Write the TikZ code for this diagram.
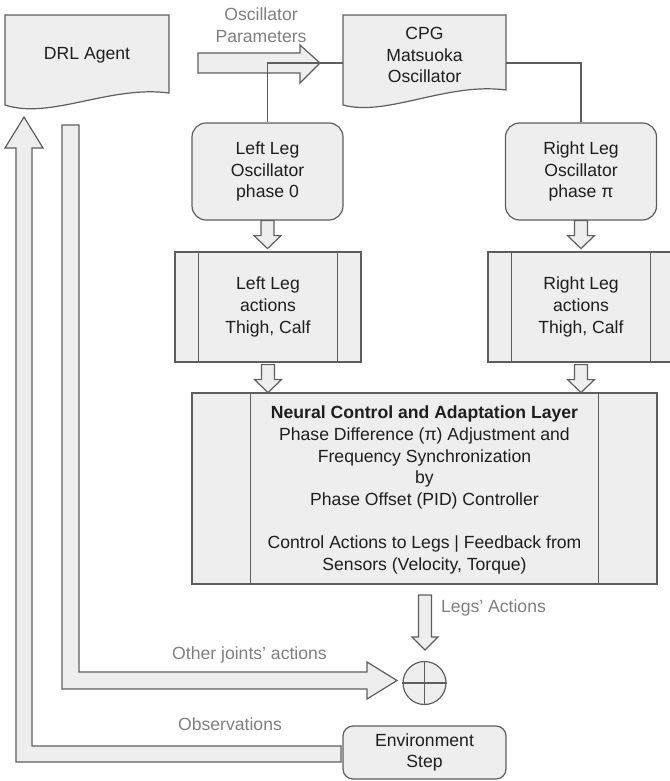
\documentclass[tikz,border=0pt]{standalone}
\usepackage{fontspec}
\setmainfont{Liberation Sans}
\usetikzlibrary{calc}
\definecolor{strk}{HTML}{5E5E5E}
\definecolor{fll}{HTML}{EEEEEE}
\definecolor{lbl}{HTML}{808080}
\definecolor{txt}{HTML}{1E1E1E}
\begin{document}
\begin{tikzpicture}[x=1pt,y=-1pt,
  every node/.style={font=\fontsize{17.6}{21.7}\selectfont, text=txt, align=center, inner sep=0pt},
  shp/.style={draw=strk, fill=fll, line width=1.2pt, line join=miter},
  docbox/.style={minimum width=164pt, minimum height=80pt},
  oscbox/.style={shp, rounded corners=14pt, minimum width=151pt, minimum height=97pt},
  procbox/.style={shp, minimum width=186pt, minimum height=110pt},
  envbox/.style={shp, rounded corners=10pt, minimum width=163pt, minimum height=53pt},
  lbltext/.style={text=lbl},
  conn/.style={draw=strk, line width=1.2pt},
  sumnode/.style={shp, circle, minimum size=43pt},
  downarrow/.pic={\draw[shp] (-6.5,0) -- (6.5,0) -- (6.5,15) -- (13.5,15) -- (0,28) -- (-13.5,15) -- (-6.5,15) -- cycle;}
]
\useasboundingbox (0,0) rectangle (669,781);
\fill[white] (0,0) rectangle (669,781);

% document shapes
\draw[shp] (5,15) -- (169,15) -- (169,93) .. controls (110,85) and (50,120) .. (5,105) -- cycle;
\draw[shp] (343,15) -- (506,15) -- (506,90) .. controls (447,82) and (387,117) .. (343,105) -- cycle;
\node[docbox] (drl) at (87,55) {DRL Agent};
\node[docbox, minimum width=163pt] (cpg) at (424.5,55) {CPG\\Matsuoka\\Oscillator};

% oscillator parameters block arrow
\draw[shp] (198,53) -- (300,53) -- (300,45) -- (320,63) -- (300,83) -- (300,73) -- (198,73) -- cycle;
\node[lbltext] (oplabel) at (261,25) {Oscillator\\Parameters};

% oscillators
\node[oscbox] (lo) at (267.5,171.5) {Left Leg\\Oscillator\\phase 0};
\node[oscbox] (ro) at (581,171.5) {Right Leg\\Oscillator\\phase π};
\draw[conn] ([yshift=-8pt]cpg.west) -| (lo.north);
\draw[conn] ([yshift=-8pt]cpg.east) -| (ro.north);

% action boxes
\node[procbox] (la) at (268,307) {Left Leg\\actions\\Thigh, Calf};
\node[procbox] (ra) at (581,307) {Right Leg\\actions\\Thigh, Calf};
\foreach \b in {la,ra}{
  \draw[conn] ([xshift=24pt]\b.north west) -- ([xshift=24pt]\b.south west);
  \draw[conn] ([xshift=-24pt]\b.north east) -- ([xshift=-24pt]\b.south east);
}
\pic at (lo.south) {downarrow};
\pic at (ro.south) {downarrow};
\pic at ([yshift=-2pt]la.south) {downarrow};
\pic at ([yshift=-2pt]ra.south) {downarrow};

% neural control box
\node[shp, minimum width=465pt, minimum height=191pt] (nc) at (424.5,488.5) {};
\draw[conn] ([xshift=59pt]nc.north west) -- ([xshift=59pt]nc.south west);
\draw[conn] ([xshift=-59pt]nc.north east) -- ([xshift=-59pt]nc.south east);
\node (nctext) at (424.5,490) {\textbf{Neural Control and Adaptation Layer}\\Phase Difference (π) Adjustment and\\Frequency Synchronization\\by\\Phase Offset (PID) Controller\\[21.7pt]Control Actions to Legs | Feedback from\\Sensors (Velocity, Torque)};

% legs' actions arrow and sum
\draw[shp] (418.5,595) -- (431.5,595) -- (431.5,637) -- (438,637) -- (425,650) -- (412,637) -- (418.5,637) -- cycle;
\node[lbltext, anchor=west] (lalabel) at (441,608) {Legs’ Actions};
\node[sumnode] (sum) at (424.5,683) {};
\draw[conn] (sum.north) -- (sum.south) (sum.west) -- (sum.east);

% other joints' actions
\draw[shp] (62,125) -- (79,125) -- (79,672) -- (367,672) -- (367,662) -- (397,680.5) -- (367,699) -- (367,689) -- (62,689) -- cycle;
\node[lbltext] (ojlabel) at (249.5,655) {Other joints’ actions};

% observations
\draw[shp] (341,746) -- (32,746) -- (32,148) -- (43,148) -- (24,117) -- (5,148) -- (16,148) -- (16,762) -- (341,762) -- cycle;
\node[lbltext] (oblabel) at (230,724) {Observations};
\node[envbox] (env) at (424.5,752.5) {Environment\\Step};
\end{tikzpicture}
\end{document}
